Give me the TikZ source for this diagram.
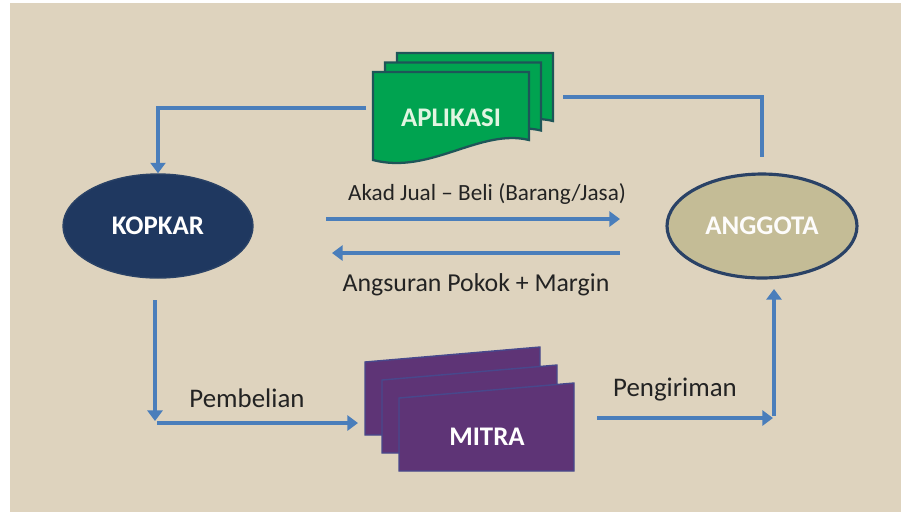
\documentclass[tikz,border=0pt]{standalone}
\usepackage{fontspec}
\setmainfont{Carlito}
\usetikzlibrary{shapes.geometric,arrows.meta}
\definecolor{fondo}{RGB}{222,211,190}
\definecolor{flecha}{RGB}{74,126,187}
\definecolor{azuloscuro}{RGB}{31,56,96}
\definecolor{bordeazul}{RGB}{42,66,102}
\definecolor{caqui}{RGB}{196,188,150}
\definecolor{verde}{RGB}{0,163,80}
\definecolor{bordeverde}{RGB}{30,85,88}
\definecolor{morado}{RGB}{94,52,118}
\definecolor{bordemorado}{RGB}{72,72,140}
\definecolor{texto}{RGB}{35,35,35}
\begin{document}
\begin{tikzpicture}[x=0.02cm,y=-0.02cm,
  flujo/.style={line width=2.3pt,color=flecha,-{Triangle[length=6pt,width=8.5pt]}},
  linea/.style={line width=2.3pt,color=flecha},
  etiqueta/.style={text=texto,font=\fontsize{15}{17}\selectfont},
  nombre/.style={font=\bfseries\fontsize{15.3}{17}\selectfont}]
  \fill[white] (0,0) rectangle (901,512);
  \fill[fondo] (10,3) rectangle (901,512); % fondo
  \useasboundingbox (0,0) rectangle (901,512);
  % hojas de aplicacion
  \foreach \i in {2,1,0}
    \filldraw[fill=verde,draw=bordeverde,line width=1.3pt,shift={(12*\i,-9.5*\i)}]
      (373,72) -- (529,72) -- (529,140) .. controls (480,128) and (430,175) .. (373,160) -- cycle;
  % hojas de mitra
  \foreach \i in {0,1,2}
    \filldraw[fill=morado,draw=bordemorado,line width=0.8pt,shift={(17*\i,18*\i)}]
      (365,362) -- (540,347) -- (540,435) -- (365,435) -- cycle;
  \node[ellipse,nombre,text=white,fill=azuloscuro,draw=bordeazul,line width=0.8pt,
    minimum width=3.8cm,minimum height=2.08cm] (kopkar) at (158,226) {KOPKAR};
  \node[ellipse,nombre,text=white!96!caqui,fill=caqui,draw=bordeazul,line width=1.8pt,
    minimum width=3.8cm,minimum height=2.08cm] (anggota) at (762,226) {ANGGOTA};
  \node[nombre,text={rgb,255:red,225;green,245;blue,225}] (aplikasi) at (451,118) {APLIKASI};
  \node[nombre,text=white] (mitra) at (487,437) {MITRA};
  % puntos de las flechas
  \coordinate (a1) at (366,108);
  \coordinate (a2) at (563,97);
  \coordinate (k3) at (326,219);
  \coordinate (g3) at (620,219);
  \coordinate (g4) at (620,253);
  \coordinate (k4) at (332,253);
  \coordinate (k5) at (155,300);
  \coordinate (k6) at (155,421);
  \coordinate (k7) at (157,423);
  \coordinate (m1) at (358,423);
  \coordinate (m2) at (597,418);
  \coordinate (g5) at (773,418);
  \coordinate (g6) at (774,416);
  \coordinate (g7) at (774,289);
  \draw[flujo] (a1) -| (kopkar.north);
  \draw[linea,shorten <=3.1mm] (anggota.north) |- (a2);
  \draw[flujo] (k3) -- (g3);
  \draw[flujo] (g4) -- (k4);
  \draw[flujo] (k5) -- (k6);
  \draw[flujo] (k7) -- (m1);
  \draw[flujo] (m2) -- (g5);
  \draw[flujo] (g6) -- (g7);
  \node[etiqueta,font=\fontsize{13.2}{15}\selectfont] (akad) at (487,194) {Akad Jual -- Beli (Barang/Jasa)};
  \node[etiqueta,font=\fontsize{14.7}{17}\selectfont] (angsuran) at (476,285) {Angsuran Pokok + Margin};
  \node[etiqueta,font=\fontsize{15.3}{17}\selectfont] (pembelian) at (247,398) {Pembelian};
  \node[etiqueta,font=\fontsize{15.3}{17}\selectfont] (pengiriman) at (675,390) {Pengiriman};
\end{tikzpicture}
\end{document}
